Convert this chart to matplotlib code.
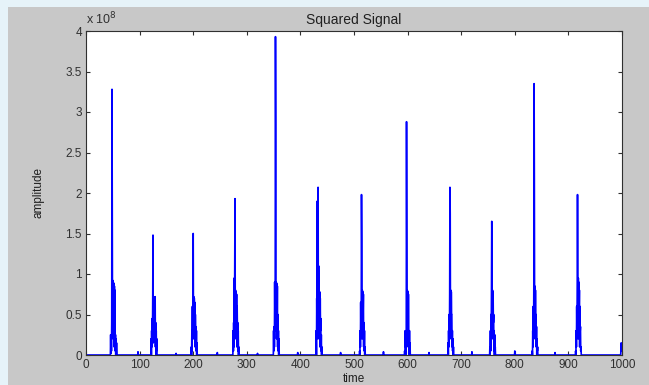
import numpy as np
import matplotlib
matplotlib.use("Agg")
import matplotlib.pyplot as plt
from matplotlib.patches import Rectangle

# ---- data (amplitude in units of 1e8), samples every 0.5 time units ----
t_end = 1000
step = 0.5
beat_starts = [45.5, 121, 196, 274, 349.5, 429, 510, 594, 675, 753, 832, 913]
beat_values = [
    [0, 0.25, 0.02, 0.2, 0.05, 0.4, 3.28, 1.8, 0.3, 0.92, 0.2, 0.9, 0.4, 0.88, 0.1, 0.85, 0.3, 0.8, 0.05, 0.25, 0.0, 0.2, 0.0, 0.15, 0.0],
    [0, 0.2, 0.0, 0.3, 0.1, 0.45, 0.2, 0.7, 1.48, 0.15, 0.72, 0.3, 0.7, 0.2, 0.65, 0.4, 0.72, 0.1, 0.4, 0.0, 0.3, 0.05, 0.2, 0],
    [0, 0.1, 0.0, 0.3, 0.05, 0.6, 0.2, 0.75, 1.5, 0.3, 0.72, 0.2, 0.7, 0.4, 0.65, 0.1, 0.5, 0.3, 0.35, 0.05, 0.3, 0.0, 0.15, 0],
    [0, 0.3, 0.05, 0.4, 0.1, 0.95, 0.3, 1.0, 1.93, 0.4, 0.8, 0.2, 0.78, 0.5, 0.75, 0.1, 0.6, 0.3, 0.4, 0.05, 0.3, 0, 0.1, 0],
    [0, 0.3, 0.05, 0.35, 0.1, 0.9, 0.4, 0.95, 3.93, 2.85, 0.3, 0.9, 0.2, 0.88, 0.4, 0.85, 0.1, 0.5, 0.05, 0.3, 0.0, 0.2, 0],
    [0, 0.3, 0.0, 0.7, 0.2, 1.9, 0.4, 1.1, 2.07, 0.3, 1.1, 0.2, 0.8, 0.5, 0.78, 0.1, 0.7, 0.3, 0.45, 0.05, 0.25, 0, 0.1, 0],
    [0, 0.05, 0.0, 0.3, 0.1, 0.65, 0.2, 0.5, 1.98, 1.42, 0.3, 0.8, 0.2, 0.78, 0.5, 0.75, 0.1, 0.4, 0.05, 0.3, 0, 0.1, 0],
    [0, 0.05, 0, 0.3, 0.1, 0.25, 0.0, 0.3, 2.88, 1.58, 0.2, 0.8, 0.4, 0.78, 0.1, 0.75, 0.3, 0.25, 0.0, 0.3, 0.05, 0.15, 0],
    [0, 0.15, 0.0, 0.3, 0.1, 0.5, 0.2, 0.75, 2.07, 1.75, 0.3, 0.8, 0.2, 0.78, 0.5, 0.5, 0.1, 0.3, 0.05, 0.2, 0.0, 0.1, 0],
    [0, 0.1, 0.0, 0.3, 0.05, 0.5, 0.2, 0.8, 1.65, 1.35, 0.3, 0.8, 0.2, 0.78, 0.4, 0.5, 0.05, 0.3, 0.0, 0.25, 0.05, 0.1, 0],
    [0, 0.05, 0.0, 0.3, 0.1, 0.6, 0.2, 0.85, 3.35, 2.15, 0.3, 0.85, 0.2, 0.8, 0.4, 0.5, 0.1, 0.35, 0.0, 0.2, 0.05, 0.1, 0],
    [0, 0.05, 0.0, 0.3, 0.1, 0.6, 0.2, 0.9, 1.98, 1.05, 0.3, 0.95, 0.2, 0.9, 0.5, 0.8, 0.1, 0.6, 0.3, 0.35, 0.05, 0.1, 0],
]
small_bump_pos = [97, 168, 245, 320, 395, 475, 555, 640, 720, 800, 875, 998, 998.5, 999, 999.5, 1000]
small_bump_vals = [0.04, 0.02, 0.03, 0.02, 0.03, 0.03, 0.04, 0.03, 0.04, 0.05, 0.03, 0.05, 0.15, 0.05, 0.12, 0.1]

x_ticks = [0, 100, 200, 300, 400, 500, 600, 700, 800, 900, 1000]
y_ticks = [0, 0.5, 1, 1.5, 2, 2.5, 3, 3.5, 4]
y_tick_labels = ["0", "0.5", "1", "1.5", "2", "2.5", "3", "3.5", "4"]

# ---- assemble signal from read values ----
n = int(round(t_end / step)) + 1
t = np.arange(n) * step
signal = np.zeros(n)
for start, vals in zip(beat_starts, beat_values):
    i0 = int(round(start / step))
    signal[i0:i0 + len(vals)] = vals
for p, v in zip(small_bump_pos, small_bump_vals):
    signal[int(round(p / step))] = v

plt.rcParams['font.family'] = ['Liberation Sans', 'DejaVu Sans']

W, H = 649, 385
fig = plt.figure(figsize=(W / 100, H / 100), dpi=100)
fig.patch.set_facecolor('#e6f3f9')
# gray MATLAB figure region
fig.patches.append(Rectangle((8 / W, 0), 1 - 8 / W, 1 - 7 / H, transform=fig.transFigure,
                             facecolor='#c8c8c8', edgecolor='none', zorder=-10))

ax = fig.add_axes([86 / W, 1 - 355 / H, (622 - 86) / W, (355 - 31) / H])
ax.set_zorder(5)
ax.set_facecolor('white')
ax.plot(t, signal, color='#0000ff', linewidth=1.2)

ax.set_xlim(0, 1000)
ax.set_ylim(0, 4)
ax.set_xticks(x_ticks)
ax.set_yticks(y_ticks)
ax.set_yticklabels(y_tick_labels)
ax.tick_params(direction='in', length=3, width=0.8, top=True, right=True,
               labelsize=8.5, colors='#303030', pad=3)
for s in ax.spines.values():
    s.set_color('#303030')
    s.set_linewidth(0.8)

ax.set_title('Squared Signal', fontsize=10, color='#202020', pad=5)
ax.set_xlabel('time', fontsize=8.5, color='#202020', labelpad=1)
ax.set_ylabel('amplitude', fontsize=8.5, color='#202020', labelpad=15)
ax.text(0.0, 1.01, r'x 10$^{8}$', transform=ax.transAxes, fontsize=9,
        color='#303030', ha='left', va='bottom')

fig.savefig('out.png', dpi=100, facecolor=fig.get_facecolor())
